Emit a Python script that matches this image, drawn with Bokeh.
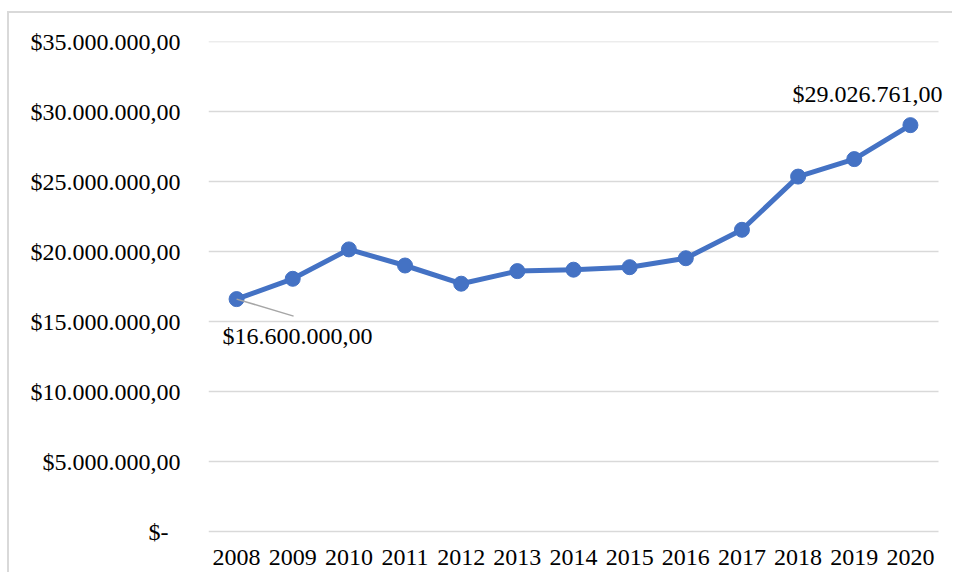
from bokeh.plotting import figure
from bokeh.models import Range1d, FixedTicker, Label, ColumnDataSource
from bokeh.core.properties import value
from bokeh.embed import file_html
from bokeh.resources import INLINE

years = ["2008", "2009", "2010", "2011", "2012", "2013", "2014",
         "2015", "2016", "2017", "2018", "2019", "2020"]
values = [16600000, 18050000, 20150000, 19000000, 17700000, 18600000, 18700000,
          18880000, 19520000, 21550000, 25350000, 26600000, 29026761]
y_ticks = [0, 5000000, 10000000, 15000000, 20000000, 25000000, 30000000, 35000000]
y_tick_labels = ["$-\u00a0\u00a0", "$5.000.000,00", "$10.000.000,00", "$15.000.000,00",
                 "$20.000.000,00", "$25.000.000,00", "$30.000.000,00", "$35.000.000,00"]
label_years = ["2008", "2020"]
label_texts = ["$16.600.000,00", "$29.026.761,00"]

FONT = "Liberation Serif, Times New Roman, Tinos, DejaVu Serif, serif"
FS = "24px"
BLUE = "#4472C4"

W, H = 952, 572
LEFT, RIGHT, TOP = 208, 8, 41
PLOT_H = 490          # pixel height of the 0..35M value span
BELOW = 41            # pixels below the zero line reserved for the year labels
FRAME_W = W - LEFT - RIGHT
BAND_W = 730          # width occupied by the category bands
Y_MAX = y_ticks[-1]

n = len(years)
xs = list(range(n))
px_per_cat = BAND_W / n
px_per_val = PLOT_H / Y_MAX
x_start = -0.5
x_end = x_start + FRAME_W / px_per_cat
y_start = -BELOW / px_per_val

p = figure(width=W, height=H, output_backend="svg", toolbar_location=None,
           x_range=Range1d(x_start, x_end),
           y_range=Range1d(y_start, Y_MAX),
           min_border_left=LEFT, min_border_right=RIGHT,
           min_border_top=TOP, min_border_bottom=0)
p.outline_line_color = None
p.background_fill_color = None
p.border_fill_color = None
p.styles = {
    "background-color": "white",
    "background-image": "linear-gradient(#d9d9d9,#d9d9d9), linear-gradient(#d9d9d9,#d9d9d9)",
    "background-position": "7px 11px, 7px 11px",
    "background-size": "2000px 2px, 2px 2000px",
    "background-repeat": "no-repeat, no-repeat",
}

p.xgrid.grid_line_color = None
p.ygrid.grid_line_color = None
p.xaxis.visible = False

# horizontal gridlines spanning only the category bands
p.segment(x0=[xs[0] - 0.5] * len(y_ticks), x1=[xs[-1] + 0.5] * len(y_ticks),
          y0=y_ticks, y1=y_ticks, line_color="#d9d9d9", line_width=1.5)

p.yaxis.ticker = FixedTicker(ticks=y_ticks)
p.yaxis.major_label_overrides = {t: l for t, l in zip(y_ticks, y_tick_labels)}
p.yaxis.axis_line_color = None
p.yaxis.major_tick_line_color = None
p.yaxis.minor_tick_line_color = None
p.yaxis.major_tick_out = 0
p.yaxis.major_label_standoff = 28
p.yaxis.major_label_text_font = FONT
p.yaxis.major_label_text_font_size = FS
p.yaxis.major_label_text_color = "black"

# category (year) labels under the zero line
p.text(x=xs, y=[y_ticks[0]] * n, text=years, y_offset=26,
       text_align="center", text_baseline="middle",
       text_font=value(FONT), text_font_size=value(FS), text_color="black")

src = ColumnDataSource(dict(x=xs, y=values))
p.line("x", "y", source=src, line_color=BLUE, line_width=5, line_join="round")
p.scatter("x", "y", source=src, size=15, fill_color=BLUE, line_color=BLUE)

# data labels (offsets in screen px)
styles = {"2008": (61, -37, "center"), "2020": (32, 31, "right")}
for yr, txt in zip(label_years, label_texts):
    i = years.index(yr)
    dx, dy, al = styles[yr]
    p.add_layout(Label(x=xs[i], y=values[i], text=txt, x_offset=dx, y_offset=dy,
                       text_align=al, text_baseline="middle",
                       text_font=FONT, text_font_size=FS, text_color="black"))

# leader line for first label
i0 = years.index(label_years[0])
lead_dx, lead_dy = 57, -17
p.segment(x0=[xs[i0]], y0=[values[i0]], x1=[xs[i0] + lead_dx / px_per_cat],
          y1=[values[i0] + lead_dy / px_per_val], line_color="#a6a6a6", line_width=1.5)

open("out.html", "w").write(file_html(p, INLINE))
